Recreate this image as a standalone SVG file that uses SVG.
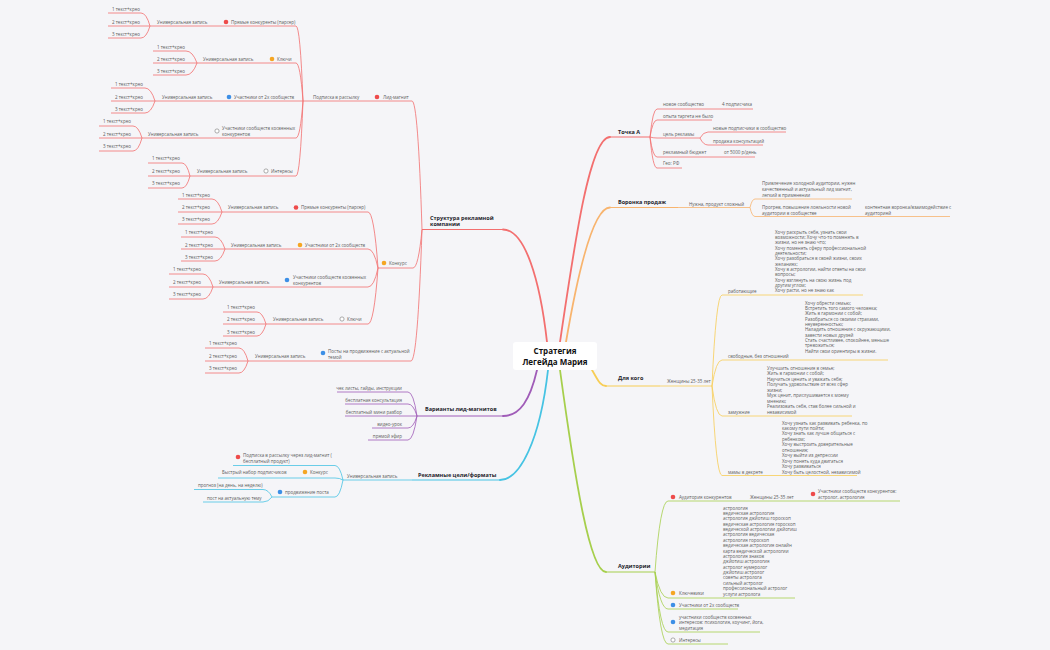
<svg xmlns="http://www.w3.org/2000/svg" width="1050" height="650" viewBox="0 0 1050 650">
<style>
text{font-family:"Open Sans","Liberation Sans",sans-serif}
.t{font-size:4.5px;fill:#5a5a5a}
.h{font-size:5.5px;font-weight:bold;fill:#1d1d2b}
.ctr{font-size:8px;font-weight:bold;fill:#111;text-anchor:middle}
.e{text-anchor:end}
path{fill:none}
.r{stroke:#f36f6f;stroke-width:0.8}
.o{stroke:#f8b46e;stroke-width:0.8}
.y{stroke:#f7cd55;stroke-width:0.8}
.g{stroke:#a6cf4c;stroke-width:0.8}
.c{stroke:#46c3e3;stroke-width:0.8}
.p{stroke:#a05cb8;stroke-width:0.8}
.m{stroke-width:1.8;stroke-linecap:round}
.ir{fill:#ee4b4b}.io{fill:#f5a623}.ib{fill:#3d8fe6}.ig{fill:#fff;stroke:#8a8a8a;stroke-width:0.7}
</style>
<rect width="1050" height="650" fill="#f5f5f8"/>

<g id="connectors">
<path class="r m" d="M547 342 C540 280 525 229.5 503 229.5"/>
<path class="r m" d="M560 342 C575 240 590 137 610 137"/>
<path class="o m" d="M566 342 C580 260 595 207.5 610 207.5"/>
<path class="y m" d="M592 370 C598 380 600 386 606 386"/>
<path class="g m" d="M560 370 C575 480 590 572 606 572"/>
<path class="p m" d="M537 370 C530 400 520 416 503 416"/>
<path class="c m" d="M548 370 C540 440 520 480 500 480"/>
<path class="r" d="M412 101 Q418 101 422 229.5"/>
<path class="r" d="M413 268 Q418.4 268 422 229.5"/>
<path class="r" d="M411 361 Q417.6 361 422 229.5"/>
<path class="r" d="M369 101 H372"/>
<path class="r" d="M296 26 Q300.2 26 303 101"/>
<path class="r" d="M296 63 Q300.2 63 303 101"/>
<path class="r" d="M296 101 H303"/>
<path class="r" d="M296 138 Q300.2 138 303 101"/>
<path class="r" d="M296 176 Q300.2 176 303 101"/>
<path class="r" d="M217 26 H220 M262 63 H266 M220 101 H224 M208 138 H212 M256 176 H260"/>
<path class="r" d="M141 13 Q146.4 13 150 26 M144 26 H150 M141 38 Q146.4 38 150 26"/>
<path class="r" d="M186 51 Q192.6 51 197 63 M186 63 H197 M186 75 Q192.6 75 197 63"/>
<path class="r" d="M145 88 Q151 88 155 101 M145 101 H155 M145 113 Q151 113 155 101"/>
<path class="r" d="M133 126 Q138.4 126 142 138 M133 138 H142 M133 151 Q138.4 151 142 138"/>
<path class="r" d="M182 163 Q186.8 163 190 176 M182 176 H190 M182 188 Q186.8 188 190 176"/>
<path class="r" d="M368 212 Q374 212 378 268"/>
<path class="r" d="M368 249 Q374 249 378 268"/>
<path class="r" d="M368 287 Q374 287 378 268"/>
<path class="r" d="M368 324 Q374 324 378 268"/>
<path class="r" d="M287 212 H290 M290 249 H294 M278 287 H282 M332 324 H336 M314 361 H318"/>
<path class="r" d="M212 199 Q218 199 222 212 M212 212 H222 M212 224 Q218 224 222 212"/>
<path class="r" d="M215 237 Q221 237 225 249 M215 249 H225 M215 261 Q221 261 225 249"/>
<path class="r" d="M203 274 Q209 274 213 287 M203 287 H213 M203 299 Q209 299 213 287"/>
<path class="r" d="M257 312 Q262.4 312 266 324 M257 324 H266 M257 336 Q262.4 336 266 324"/>
<path class="r" d="M239 348 Q244.4 348 248 361 M239 361 H248 M239 373 Q244.4 373 248 361"/>
<path class="p" d="M408 392 Q413.4 392 417 416 M408 404 Q413.4 404 417 416 M408 416 H417 M408 428 Q413.4 428 417 416 M408 440 Q413.4 440 417 416"/>
<path class="c" d="M408 480 H412"/>
<path class="c" d="M335 465.5 Q339.8 465.5 343 480 M335 478 Q339.8 478 343 480 M335 497 Q339.8 497 343 480"/>
<path class="c" d="M294 478 H298"/>
<path class="c" d="M263 489.5 Q268.4 489.5 272 497 M263 502 Q268.4 502 272 497"/>
<path class="r" d="M657 109 Q652.8 109 650 137 M657 120 Q652.8 120 650 137 M657 138 Q652.8 138 650 137 M657 157 Q652.8 157 650 137 M657 168 Q652.8 168 650 137"/>
<path class="r" d="M708 132 Q703.2 132 700 138 M708 145 Q703.2 145 700 138"/>
<path class="o" d="M678 207.5 H680"/>
<path class="o" d="M755 199 Q752 199 750 207.5 M755 216.5 Q752 216.5 750 207.5 M852 216.5 H858"/>
<path class="y" d="M660 386 H662"/>
<path class="y" d="M722 295 Q716 295 712 386 M722 360 Q716 360 712 386 M722 416 Q716 416 712 386 M722 475.5 Q716 475.5 712 386"/>
<path class="g" d="M668 501 Q660.2 501 655 572 M668 598 Q660.2 598 655 572 M668 609 Q660.2 609 655 572 M668 632 Q660.2 632 655 572 M668 644 Q660.2 644 655 572"/>
</g>

<g id="center">
<rect x="513" y="342" width="84" height="28" rx="3" fill="#fff"/>
<text class="ctr" x="555" y="354">Стратегия</text>
<text class="ctr" x="555" y="365">Легейда Мария</text>
</g>

<g id="struktura">
<text class="h" x="430" y="219.5">Структура рекламной</text>
<text class="h" x="430" y="226">компании</text>
<path class="r" d="M422 229.5 H503" style="stroke-width:1.2"/>
</g>

<g id="lid-magnit">
<circle class="ir" cx="377" cy="97" r="2.3"/>
<text class="t" x="383" y="98.6">Лид-магнит</text>
<path class="r" d="M372 101 H412"/>
</g>
<g id="podpiska">
<text class="t" x="313" y="98.6">Подписка в рассылку</text>
<path class="r" d="M303 101 H369"/>
</g>

<g id="lm-a">
<circle class="ir" cx="226" cy="22" r="2.3"/>
<text class="t" x="231" y="23.6">Прямые конкуренты (парсер)</text>
<path class="r" d="M220 26 H296"/>
<text class="t" x="157" y="23.6">Универсальная запись</text>
<path class="r" d="M150 26 H217"/>
<text class="t" x="112" y="10.6">1 текст+крео</text>
<text class="t" x="112" y="23.6">2 текст+крео</text>
<text class="t" x="112" y="35.6">3 текст+крео</text>
<path class="r" d="M108 13 H141 M108 26 H144 M108 38 H141"/>
</g>
<g id="lm-b">
<circle class="io" cx="272" cy="59" r="2.3"/>
<text class="t" x="277" y="60.6">Ключи</text>
<path class="r" d="M266 63 H296"/>
<text class="t" x="203" y="60.6">Универсальная запись</text>
<path class="r" d="M197 63 H262"/>
<text class="t" x="157" y="48.6">1 текст+крео</text>
<text class="t" x="157" y="60.6">2 текст+крео</text>
<text class="t" x="157" y="72.6">3 текст+крео</text>
<path class="r" d="M153 51 H186 M153 63 H186 M153 75 H186"/>
</g>
<g id="lm-c">
<circle class="ib" cx="229" cy="97" r="2.3"/>
<text class="t" x="234" y="98.6">Участники от 2х сообществ</text>
<path class="r" d="M224 101 H296"/>
<text class="t" x="162" y="98.6">Универсальная запись</text>
<path class="r" d="M155 101 H220"/>
<text class="t" x="115" y="85.6">1 текст+крео</text>
<text class="t" x="115" y="98.6">2 текст+крео</text>
<text class="t" x="115" y="110.6">3 текст+крео</text>
<path class="r" d="M111 88 H145 M111 101 H145 M111 113 H145"/>
</g>
<g id="lm-d">
<circle class="ig" cx="217" cy="131" r="2.1"/>
<text class="t" x="222" y="129.6">Участники сообществ косвенных</text>
<text class="t" x="222" y="135.6">конкурентов</text>
<path class="r" d="M212 138 H296"/>
<text class="t" x="148" y="135.6">Универсальная запись</text>
<path class="r" d="M142 138 H208"/>
<text class="t" x="103" y="122.6">1 текст+крео</text>
<text class="t" x="103" y="135.6">2 текст+крео</text>
<text class="t" x="103" y="147.6">3 текст+крео</text>
<path class="r" d="M99 126 H133 M99 138 H133 M99 151 H133"/>
</g>
<g id="lm-e">
<circle class="ig" cx="266" cy="171" r="2.1"/>
<text class="t" x="271" y="172.6">Интересы</text>
<path class="r" d="M260 176 H296"/>
<text class="t" x="197" y="172.6">Универсальная запись</text>
<path class="r" d="M190 176 H256"/>
<text class="t" x="152" y="159.6">1 текст+крео</text>
<text class="t" x="152" y="172.6">2 текст+крео</text>
<text class="t" x="152" y="184.6">3 текст+крео</text>
<path class="r" d="M148 163 H182 M148 176 H182 M148 188 H182"/>
</g>

<g id="konkurs">
<circle class="io" cx="384" cy="263" r="2.3"/>
<text class="t" x="389" y="264.6">Конкурс</text>
<path class="r" d="M378 268 H413"/>
</g>
<g id="k-f">
<circle class="ir" cx="296" cy="207.5" r="2.3"/>
<text class="t" x="301" y="208.6">Прямые конкуренты (парсер)</text>
<path class="r" d="M290 212 H368"/>
<text class="t" x="228" y="208.6">Универсальная запись</text>
<path class="r" d="M222 212 H287"/>
<text class="t" x="182" y="196.6">1 текст+крео</text>
<text class="t" x="182" y="208.6">2 текст+крео</text>
<text class="t" x="182" y="220.6">3 текст+крео</text>
<path class="r" d="M178 199 H212 M178 212 H212 M178 224 H212"/>
</g>
<g id="k-g">
<circle class="io" cx="300" cy="245" r="2.3"/>
<text class="t" x="305" y="246.6">Участники от 2х сообществ</text>
<path class="r" d="M294 249 H368"/>
<text class="t" x="231" y="246.6">Универсальная запись</text>
<path class="r" d="M225 249 H290"/>
<text class="t" x="185" y="233.6">1 текст+крео</text>
<text class="t" x="185" y="246.6">2 текст+крео</text>
<text class="t" x="185" y="258.6">3 текст+крео</text>
<path class="r" d="M181 237 H215 M181 249 H215 M181 261 H215"/>
</g>
<g id="k-h">
<circle class="ib" cx="287" cy="280" r="2.3"/>
<text class="t" x="293" y="278.6">Участники сообществ косвенных</text>
<text class="t" x="293" y="284.6">конкурентов</text>
<path class="r" d="M282 287 H368"/>
<text class="t" x="219" y="283.6">Универсальная запись</text>
<path class="r" d="M213 287 H278"/>
<text class="t" x="173" y="270.6">1 текст+крео</text>
<text class="t" x="173" y="283.6">2 текст+крео</text>
<text class="t" x="173" y="295.6">3 текст+крео</text>
<path class="r" d="M169 274 H203 M169 287 H203 M169 299 H203"/>
</g>
<g id="k-i">
<circle class="ig" cx="342" cy="319" r="2.1"/>
<text class="t" x="347" y="320.6">Ключи</text>
<path class="r" d="M336 324 H368"/>
<text class="t" x="273" y="320.6">Универсальная запись</text>
<path class="r" d="M266 324 H332"/>
<text class="t" x="227" y="308.6">1 текст+крео</text>
<text class="t" x="227" y="320.6">2 текст+крео</text>
<text class="t" x="227" y="333.6">3 текст+крео</text>
<path class="r" d="M223 312 H257 M223 324 H257 M223 336 H257"/>
</g>
<g id="posty">
<circle class="ib" cx="323" cy="353" r="2.3"/>
<text class="t" x="328" y="352.6">Посты на продвижение с актуальной</text>
<text class="t" x="328" y="358.6">темой</text>
<path class="r" d="M318 361 H411"/>
<text class="t" x="255" y="357.6">Универсальная запись</text>
<path class="r" d="M248 361 H314"/>
<text class="t" x="209" y="344.6">1 текст+крео</text>
<text class="t" x="209" y="357.6">2 текст+крео</text>
<text class="t" x="209" y="369.6">3 текст+крео</text>
<path class="r" d="M205 348 H239 M205 361 H239 M205 373 H239"/>
</g>

<g id="varianty">
<text class="h" x="425" y="411">Варианты лид-магнитов</text>
<path class="p" d="M417 416 H503" style="stroke-width:1.2"/>
<text class="t e" x="402" y="389.6">чек листы, гайды, инструкции</text>
<text class="t e" x="402" y="401.6">бесплатная консультация</text>
<text class="t e" x="402" y="413.6">бесплатный мини разбор</text>
<text class="t e" x="402" y="425.6">видео-урок</text>
<text class="t e" x="402" y="437.6">прямой эфир</text>
<path class="p" d="M337 392 H408 M345 404 H408 M345 416 H408 M372 428 H408 M368 440 H408"/>
</g>

<g id="reklamnye">
<text class="h" x="418" y="476.5">Рекламные цели/форматы</text>
<path class="c" d="M412 480 H500" style="stroke-width:1.2"/>
<text class="t" x="347" y="478">Универсальная запись</text>
<path class="c" d="M343 480 H408"/>
<circle class="ir" cx="238" cy="457" r="2.3"/>
<text class="t" x="243" y="456.6">Подписка в рассылку через лид-магнит (</text>
<text class="t" x="243" y="462.6">бесплатный продукт)</text>
<path class="c" d="M233 465.5 H335"/>
<circle class="io" cx="305" cy="472" r="2.3"/>
<text class="t" x="310" y="473.6">Конкурс</text>
<path class="c" d="M298 478 H335"/>
<text class="t" x="222" y="473.6">Быстрый набор подписчиков</text>
<path class="c" d="M218 478 H294"/>
<circle class="ib" cx="280" cy="492" r="2.3"/>
<text class="t" x="285" y="493.6">продвижение поста</text>
<path class="c" d="M272 497 H335"/>
<text class="t" x="198" y="486.6">прогноз (на день, на неделю)</text>
<path class="c" d="M194 489.5 H263"/>
<text class="t" x="207" y="499.6">пост на актуальную тему</text>
<path class="c" d="M203 502 H263"/>
</g>

<g id="tochka-a">
<text class="h" x="618" y="134">Точка А</text>
<path class="r" d="M610 137 H650" style="stroke-width:1.2"/>
<text class="t" x="663" y="105.6">новое сообщество</text>
<path class="r" d="M657 109 H718"/>
<text class="t" x="722" y="105.6">4 подписчика</text>
<path class="r" d="M718 109 H753"/>
<text class="t" x="663" y="117.6">опыта таргета не было</text>
<path class="r" d="M657 120 H712"/>
<text class="t" x="663" y="135.6">цель рекламы</text>
<path class="r" d="M657 138 H700"/>
<text class="t" x="713" y="129.6">новые подписчики в сообщество</text>
<path class="r" d="M708 132 H786"/>
<text class="t" x="713" y="142.6">продажа консультаций</text>
<path class="r" d="M708 145 H763"/>
<text class="t" x="663" y="153.6">рекламный бюджет</text>
<path class="r" d="M657 157 H712"/>
<text class="t" x="724" y="153.6">от 5000 р/день</text>
<path class="r" d="M712 157 H755"/>
<text class="t" x="663" y="164.6">Гео: РФ</text>
<path class="r" d="M657 168 H682"/>
</g>

<g id="voronka">
<text class="h" x="618" y="203.5">Воронка продаж</text>
<path class="o" d="M610 207.5 H678" style="stroke-width:1.2"/>
<text class="t" x="689" y="205.6">Нужна, продукт сложный</text>
<path class="o" d="M680 207.5 H750"/>
<text class="t" x="762" y="184.6">Привлечение холодной аудитории, нужен</text>
<text class="t" x="762" y="190.6">качественный и актуальный лид магнит,</text>
<text class="t" x="762" y="196.6">легкий в применении</text>
<path class="o" d="M755 199 H852"/>
<text class="t" x="762" y="208.6">Прогрев, повышение лояльности новой</text>
<text class="t" x="762" y="214.6">аудитории в сообществе</text>
<path class="o" d="M755 216.5 H852"/>
<text class="t" x="865" y="208.6">контентная воронка/взаимодействие с</text>
<text class="t" x="865" y="214.6">аудиторией</text>
<path class="o" d="M858 216.5 H950"/>
</g>

<g id="dlya-kogo">
<text class="h" x="618" y="380">Для кого</text>
<path class="y" d="M606 386 H660" style="stroke-width:1.2"/>
<text class="t" x="667" y="383">Женщины 25-35 лет</text>
<path class="y" d="M662 386 H712"/>
<text class="t" x="728" y="292.6">работающие</text>
<path class="y" d="M722 295 H863"/>
<text class="t" x="775" y="233.6"><tspan x="775">Хочу раскрыть себя, узнать свои</tspan><tspan x="775" dy="5.35">возможности; Хочу что-то поменять в</tspan><tspan x="775" dy="5.35">жизни, но не знаю что;</tspan><tspan x="775" dy="5.35">Хочу поменять сферу профессиональной</tspan><tspan x="775" dy="5.35">деятельности;</tspan><tspan x="775" dy="5.35">Хочу разобраться в своей жизни, своих</tspan><tspan x="775" dy="5.35">желаниях;</tspan><tspan x="775" dy="5.35">Хочу в астрологии, найти ответы на свои</tspan><tspan x="775" dy="5.35">вопросы;</tspan><tspan x="775" dy="5.35">Хочу взглянуть на свою жизнь под</tspan><tspan x="775" dy="5.35">другим углом;</tspan><tspan x="775" dy="5.35">Хочу расти, но не знаю как</tspan></text>
<text class="t" x="728" y="357.6">свободные, без отношений</text>
<path class="y" d="M722 360 H888"/>
<text class="t" x="805" y="304.6"><tspan x="805">Хочу обрести семью;</tspan><tspan x="805" dy="5.33">Встретить того самого человека;</tspan><tspan x="805" dy="5.33">Жить в гармонии с собой;</tspan><tspan x="805" dy="5.33">Разобраться со своими страхами,</tspan><tspan x="805" dy="5.33">неуверенностью;</tspan><tspan x="805" dy="5.33">Наладить отношения с окружающими,</tspan><tspan x="805" dy="5.33">завести новых друзей</tspan><tspan x="805" dy="5.33">Стать счастливее, спокойнее, меньше</tspan><tspan x="805" dy="5.33">тревожиться;</tspan><tspan x="805" dy="5.33">Найти свои ориентиры в жизни.</tspan></text>
<text class="t" x="728" y="413.6">замужние</text>
<path class="y" d="M722 416 H852"/>
<text class="t" x="767" y="369.6"><tspan x="767">Улучшить отношения в семье;</tspan><tspan x="767" dy="5.5">Жить в гармонии с собой;</tspan><tspan x="767" dy="5.5">Научиться ценить и уважать себя;</tspan><tspan x="767" dy="5.5">Получать удовольствие от всех сфер</tspan><tspan x="767" dy="5.5">жизни;</tspan><tspan x="767" dy="5.5">Муж ценит, прислушивается к моему</tspan><tspan x="767" dy="5.5">мнению;</tspan><tspan x="767" dy="5.5">Реализовать себя, став более сильной и</tspan><tspan x="767" dy="5.5">независимой</tspan></text>
<text class="t" x="728" y="473.6">мамы в декрете</text>
<path class="y" d="M722 475.5 H857"/>
<text class="t" x="782" y="424.6"><tspan x="782">Хочу узнать как развивать ребенка, по</tspan><tspan x="782" dy="5.44">какому пути пойти;</tspan><tspan x="782" dy="5.44">Хочу знать как лучше общаться с</tspan><tspan x="782" dy="5.44">ребенком;</tspan><tspan x="782" dy="5.44">Хочу выстроить доверительные</tspan><tspan x="782" dy="5.44">отношения;</tspan><tspan x="782" dy="5.44">Хочу выйти из депрессии</tspan><tspan x="782" dy="5.44">Хочу понять куда двигаться</tspan><tspan x="782" dy="5.44">Хочу развиваться</tspan><tspan x="782" dy="5.44">Хочу быть целостной, независимой</tspan></text>
</g>

<g id="auditorii">
<text class="h" x="618" y="568">Аудитории</text>
<path class="g" d="M606 572 H655" style="stroke-width:1.2"/>
<circle class="ir" cx="673" cy="497" r="2.3"/>
<text class="t" x="679" y="498.6">Аудитория конкурентов</text>
<path class="g" d="M668 501 H747"/>
<text class="t" x="750" y="498.6">Женщины 25-35 лет</text>
<path class="g" d="M747 501 H808"/>
<circle class="ir" cx="813" cy="494" r="2.3"/>
<text class="t" x="818" y="492.6">Участники сообществ конкурентов:</text>
<text class="t" x="818" y="498.6">астролог, астрология</text>
<path class="g" d="M808 501 H900"/>
<circle class="io" cx="673" cy="593" r="2.3"/>
<text class="t" x="679" y="594.6">Ключевики</text>
<path class="g" d="M668 598 H795"/>
<text class="t" x="723" y="509.6"><tspan x="723">астрология</tspan><tspan x="723" dy="5.375">ведическая астрология</tspan><tspan x="723" dy="5.375">астрология джйотиш гороскоп</tspan><tspan x="723" dy="5.375">ведическая астрология гороскоп</tspan><tspan x="723" dy="5.375">ведической астрологии джйотиш</tspan><tspan x="723" dy="5.375">астрология ведическая</tspan><tspan x="723" dy="5.375">астрология гороскоп</tspan><tspan x="723" dy="5.375">ведическая астрология онлайн</tspan><tspan x="723" dy="5.375">карта ведической астрологии</tspan><tspan x="723" dy="5.375">астрология знаков</tspan><tspan x="723" dy="5.375">джйотиш астрология</tspan><tspan x="723" dy="5.375">астролог нумеролог</tspan><tspan x="723" dy="5.375">джйотиш астролог</tspan><tspan x="723" dy="5.375">советы астролога</tspan><tspan x="723" dy="5.375">сильный астролог</tspan><tspan x="723" dy="5.375">профессиональный астролог</tspan><tspan x="723" dy="5.375">услуги астролога</tspan></text>
<circle class="ib" cx="673" cy="605" r="2.3"/>
<text class="t" x="679" y="606.6">Участники от 2х сообществ</text>
<path class="g" d="M668 609 H738"/>
<circle class="ib" cx="673" cy="622" r="2.3"/>
<text class="t" x="679" y="618.6">участники сообществ косвенных</text>
<text class="t" x="679" y="624.1">интересов: психология, коучинг, йога,</text>
<text class="t" x="679" y="629.6">медитация</text>
<path class="g" d="M668 632 H760"/>
<circle class="ig" cx="673" cy="640" r="2.1"/>
<text class="t" x="679" y="641.6">Интересы</text>
<path class="g" d="M668 644 H728"/>
</g>
</svg>
